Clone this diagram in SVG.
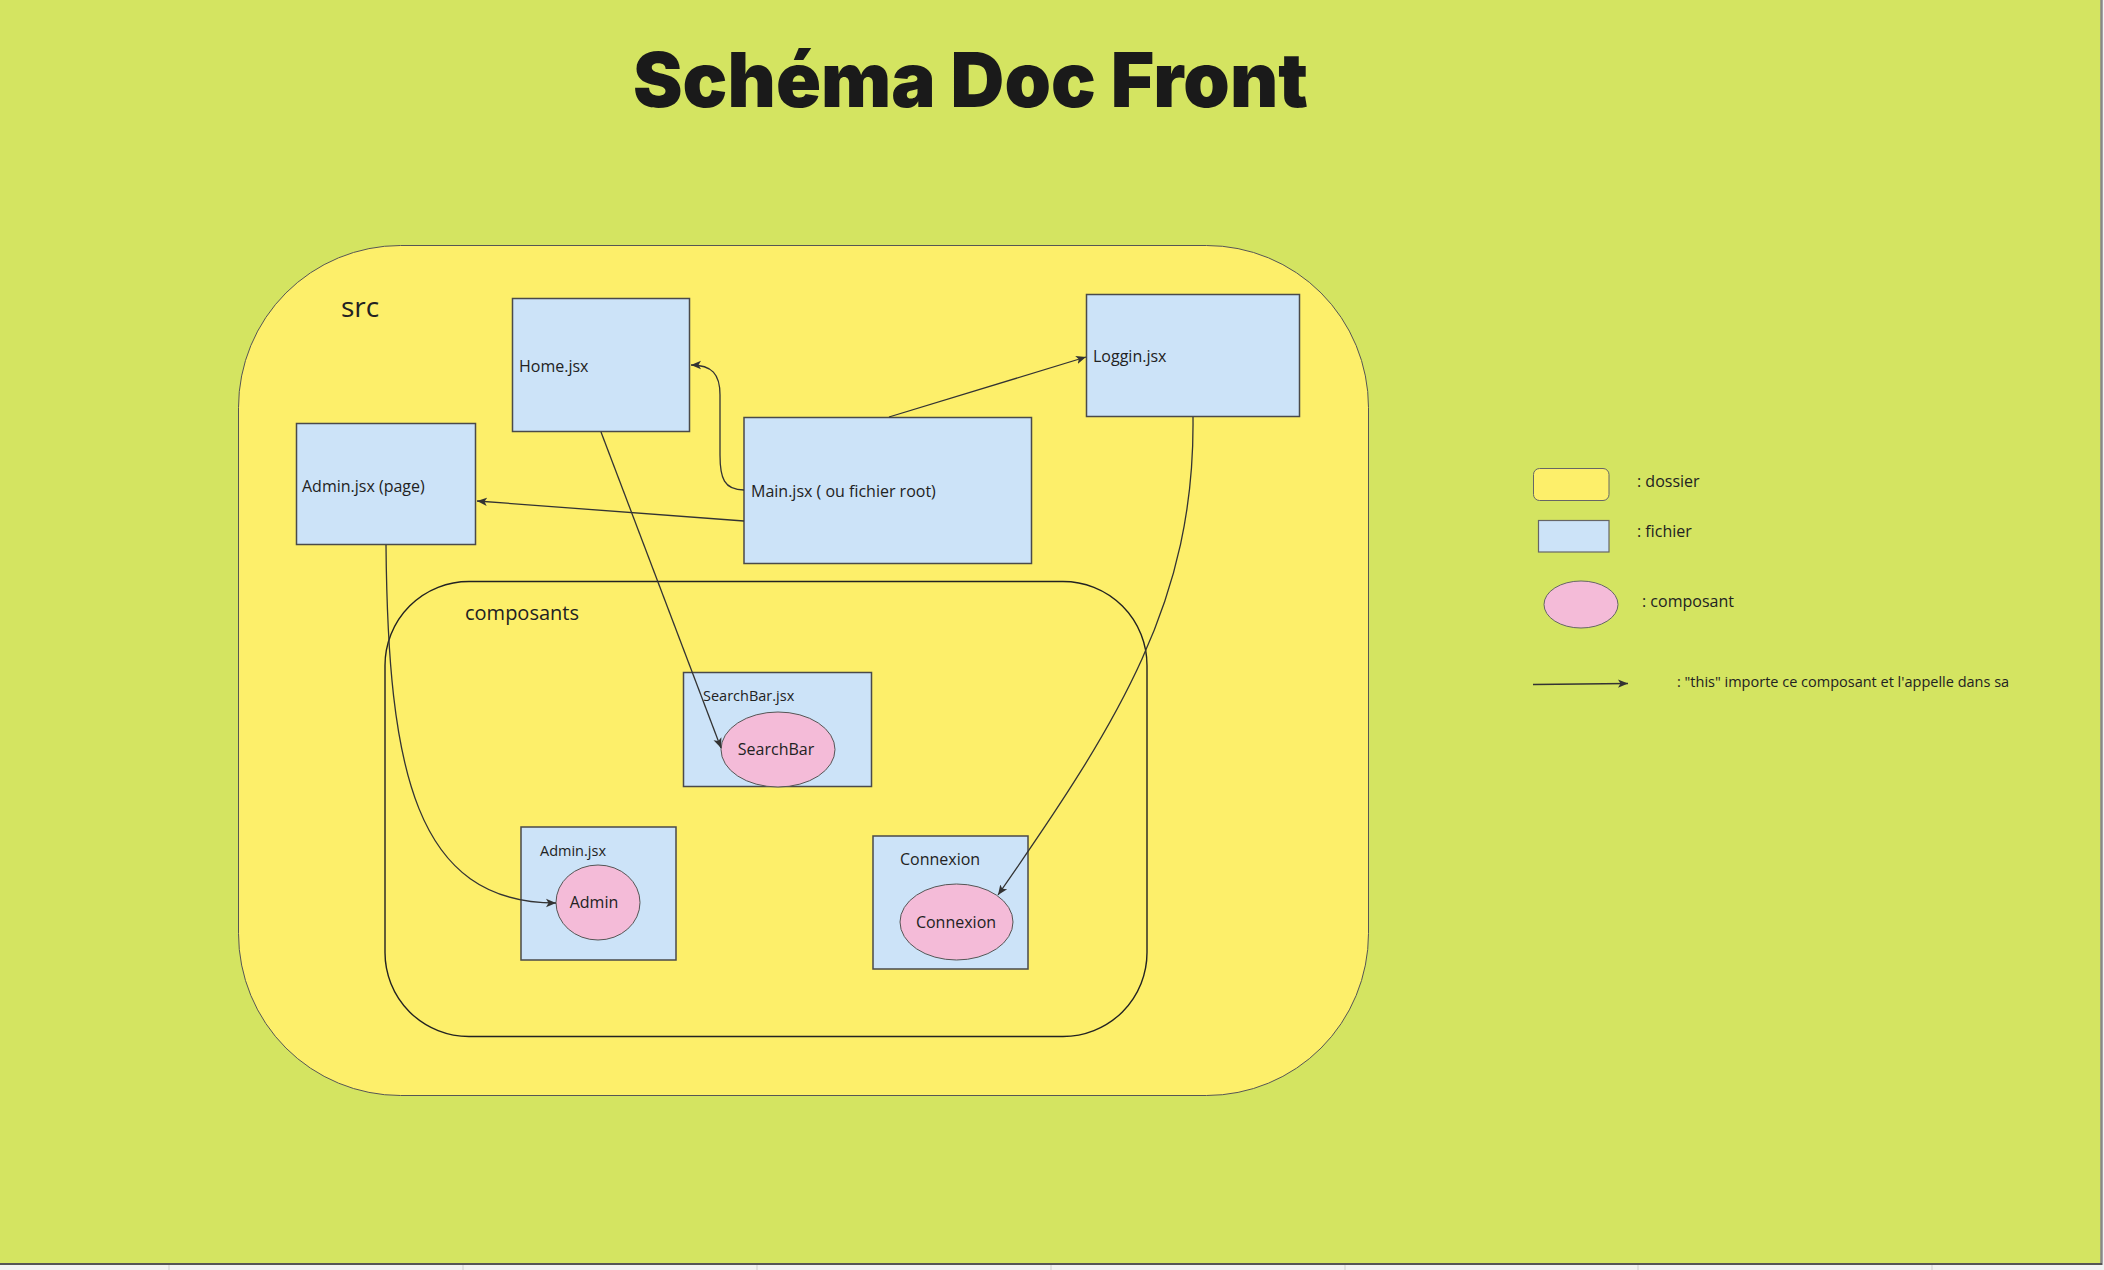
<svg xmlns="http://www.w3.org/2000/svg" width="2104" height="1270" viewBox="0 0 2104 1270">
<defs>
<style>
.t{font-family:"Open Sans","Noto Sans","DejaVu Sans",sans-serif;fill:#222;}
.file{fill:#cce3f8;stroke:#4a4a4a;stroke-width:1.5;}
.comp{fill:#f4bbd8;stroke:#555;stroke-width:1;}
.conn{fill:none;stroke:#333;stroke-width:1.3;}
</style>
<marker id="ah" markerUnits="userSpaceOnUse" markerWidth="12" markerHeight="10" refX="10" refY="5" orient="auto">
<path d="M0,0.8 L10,5 L0,9.2 L2.5,5 z" fill="#333"/>
</marker>
</defs>
<rect x="0" y="0" width="2104" height="1270" fill="#f2f2f2"/>
<rect x="0" y="0" width="2101" height="1264" fill="#d4e461"/>
<line x1="2101.5" y1="0" x2="2101.5" y2="1265" stroke="#888" stroke-width="2.5"/>
<line x1="0" y1="1264" x2="2102" y2="1264" stroke="#555" stroke-width="2"/>
<g stroke="#d0d0d0" stroke-width="1">
<line x1="169" y1="1265" x2="169" y2="1270"/><line x1="463" y1="1265" x2="463" y2="1270"/><line x1="757" y1="1265" x2="757" y2="1270"/><line x1="1051" y1="1265" x2="1051" y2="1270"/><line x1="1345" y1="1265" x2="1345" y2="1270"/><line x1="1638" y1="1265" x2="1638" y2="1270"/><line x1="1932" y1="1265" x2="1932" y2="1270"/>
</g>
<text x="633" y="107" font-family="Inter,'DejaVu Sans',sans-serif" font-weight="900" font-size="76" fill="#1a1a1a" textLength="675" lengthAdjust="spacingAndGlyphs">Schéma Doc Front</text>

<g id="src">
<rect x="238.5" y="245.5" width="1130" height="850" rx="162" ry="162" fill="#fdef6a" stroke="#555" stroke-width="1"/>
<text class="t" x="341" y="317" font-size="28">src</text>
</g>
<g id="composants">
<rect x="385" y="581.5" width="762" height="455" rx="84" ry="84" fill="none" stroke="#222" stroke-width="1.4"/>
<text class="t" x="465" y="620" font-size="20">composants</text>
</g>

<g id="home">
<rect class="file" x="512.5" y="298.5" width="177" height="133" stroke="#888"/>
<text class="t" x="519" y="372" font-size="16">Home.jsx</text>
</g>
<g id="admin-page">
<rect class="file" x="296.5" y="423.5" width="179" height="121" stroke="#333"/>
<text class="t" x="302" y="492" font-size="16">Admin.jsx (page)</text>
</g>
<g id="main">
<rect class="file" x="744" y="417.5" width="287.5" height="146" stroke="#333"/>
<text class="t" x="751" y="497" font-size="16">Main.jsx ( ou fichier root)</text>
</g>
<g id="loggin">
<rect class="file" x="1086.5" y="294.5" width="213" height="122" stroke="#777"/>
<text class="t" x="1093" y="362" font-size="16">Loggin.jsx</text>
</g>
<g id="searchbar-file">
<rect class="file" x="683.5" y="672.5" width="188" height="114" stroke="#888"/>
<text class="t" x="703" y="701" font-size="14.5">SearchBar.jsx</text>
</g>
<g id="searchbar">
<ellipse class="comp" cx="778" cy="749.5" rx="57" ry="37.5"/>
<text class="t" x="776" y="755" font-size="16" text-anchor="middle">SearchBar</text>
</g>
<g id="admin-file">
<rect class="file" x="521" y="827" width="155" height="133" stroke="#333"/>
<text class="t" x="540" y="856" font-size="14.5">Admin.jsx</text>
</g>
<g id="admin">
<ellipse class="comp" cx="598" cy="902.5" rx="42" ry="37.5"/>
<text class="t" x="594" y="908" font-size="16" text-anchor="middle">Admin</text>
</g>
<g id="connexion-file">
<rect class="file" x="873" y="836" width="155" height="133" stroke="#333"/>
<text class="t" x="900" y="865" font-size="16">Connexion</text>
</g>
<g id="connexion">
<ellipse class="comp" cx="956.5" cy="922" rx="56.5" ry="38"/>
<text class="t" x="956" y="928" font-size="16" text-anchor="middle">Connexion</text>
</g>

<g id="connectors">
<path class="conn" d="M744,490 C724,490 720,478 720,455 L720,395 C720,374 712,365 691,365" marker-end="url(#ah)"/>
<path class="conn" d="M744,521 L477,501" marker-end="url(#ah)"/>
<path class="conn" d="M889,417 L1086,357" marker-end="url(#ah)"/>
<path class="conn" d="M601,432 L721,748" marker-end="url(#ah)"/>
<path class="conn" d="M386,545 C388,770 415,903 556,903" marker-end="url(#ah)"/>
<path class="conn" d="M1193,417 C1195,600 1120,720 998,895" marker-end="url(#ah)"/>
</g>

<g id="legend">
<rect x="1533.5" y="468.5" width="75.5" height="32" rx="6" fill="#fdef6a" stroke="#666" stroke-width="1"/>
<text class="t" x="1637" y="487" font-size="16">: dossier</text>
<rect x="1538.5" y="520.5" width="70.5" height="31.5" fill="#cce3f8" stroke="#666" stroke-width="1.2"/>
<text class="t" x="1637" y="537" font-size="16">: fichier</text>
<ellipse cx="1581" cy="604.5" rx="37" ry="23.5" fill="#f4bbd8" stroke="#666" stroke-width="1"/>
<text class="t" x="1642" y="607" font-size="16">: composant</text>
<path class="conn" d="M1533,684.5 L1628,683.5" marker-end="url(#ah)"/>
<text class="t" x="1677" y="687" font-size="14.5">: "this" importe ce composant et l'appelle dans sa</text>
</g>
</svg>
